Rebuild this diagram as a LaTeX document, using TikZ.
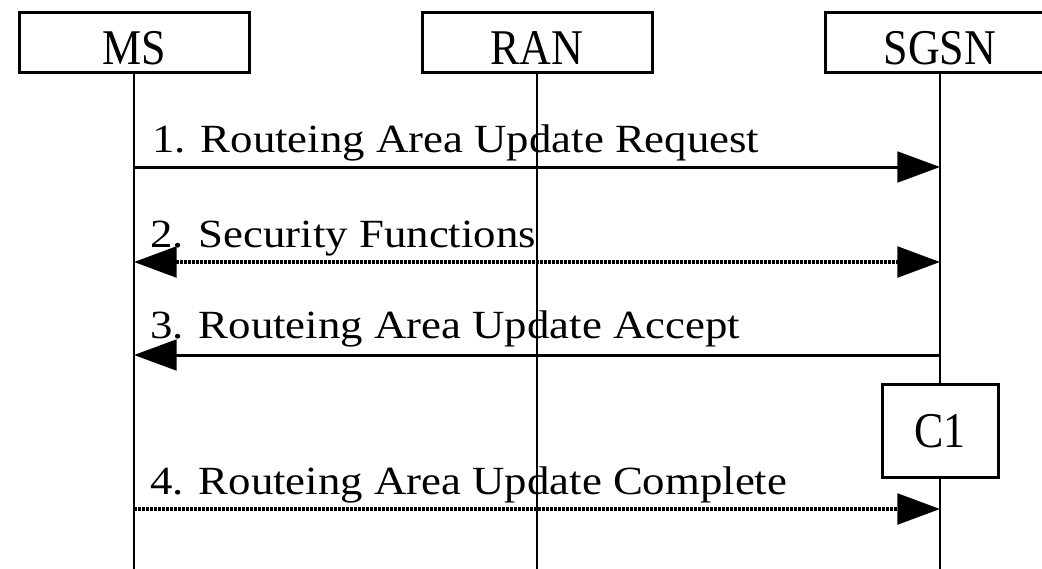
\documentclass[tikz,border=0pt]{standalone}
\usepackage{fontspec}
\setmainfont{Liberation Serif}
\newfontfamily\msgfont[FakeStretch=1.12]{Liberation Serif}
\newfontfamily\headfont[FakeStretch=0.88]{Liberation Serif}
\usetikzlibrary{arrows.meta}
\begin{document}
\begin{tikzpicture}[x=0.75pt,y=-0.75pt,
  entity/.style={draw, line width=2.25pt, fill=white, inner sep=0pt,
    minimum width=172.5pt, text height=39pt, text depth=6pt,
    font=\headfont\fontsize{37.5}{42}\selectfont},
  lifeline/.style={line width=1.5pt},
  tip/.tip={Triangle[length=32pt,width=23pt]},
  msg/.style={line width=2.25pt, -tip},
  dotmsg/.style={line width=2.6pt, dash pattern=on 2.25pt off 0.75pt},
  lbl/.style={anchor=base west, inner sep=0pt,
    font=\msgfont\fontsize{30}{36}\selectfont}]
  \clip (0,0) rectangle (1042,568);
  % participants
  \node[entity] (ms)   at (134,42) {MS};
  \node[entity] (ran)  at (537,42) {RAN};
  \node[entity] (sgsn) at (940,42) {SGSN};
  \node[entity, minimum width=87pt, text height=47.25pt, text depth=22.5pt] (c1) at (940,430.5) {C1};
  % lifelines
  \coordinate (msend)   at (134,575);
  \coordinate (ranend)  at (537,575);
  \coordinate (sgsnend) at (940,575);
  \draw[lifeline] (ms.south) -- (msend);
  \draw[lifeline] (ran.south) -- (ranend);
  \draw[lifeline] (sgsn.south) -- (c1.north);
  \draw[lifeline] (c1.south) -- (sgsnend);
  % message anchor points on the lifelines
  \foreach \k/\y in {1/167,2/262,3/355,4/509}{
    \coordinate (ms\k)   at (134,\y);
    \coordinate (sgsn\k) at (940,\y);
  }
  % messages
  \draw[msg] (ms1) -- (sgsn1);
  \draw[dotmsg, tip-tip] (ms2) -- (sgsn2);
  \draw[msg] (sgsn3) -- (ms3);
  \draw[dotmsg, -tip] (ms4) -- (sgsn4);
  % message labels
  \node[lbl] (l1) at (152,152) {1. Routeing Area Update Request};
  \node[lbl] (l2) at (150,247) {2. Security Functions};
  \node[lbl] (l3) at (150,338) {3. Routeing Area Update Accept};
  \node[lbl] (l4) at (150,494) {4. Routeing Area Update Complete};
\end{tikzpicture}
\end{document}
